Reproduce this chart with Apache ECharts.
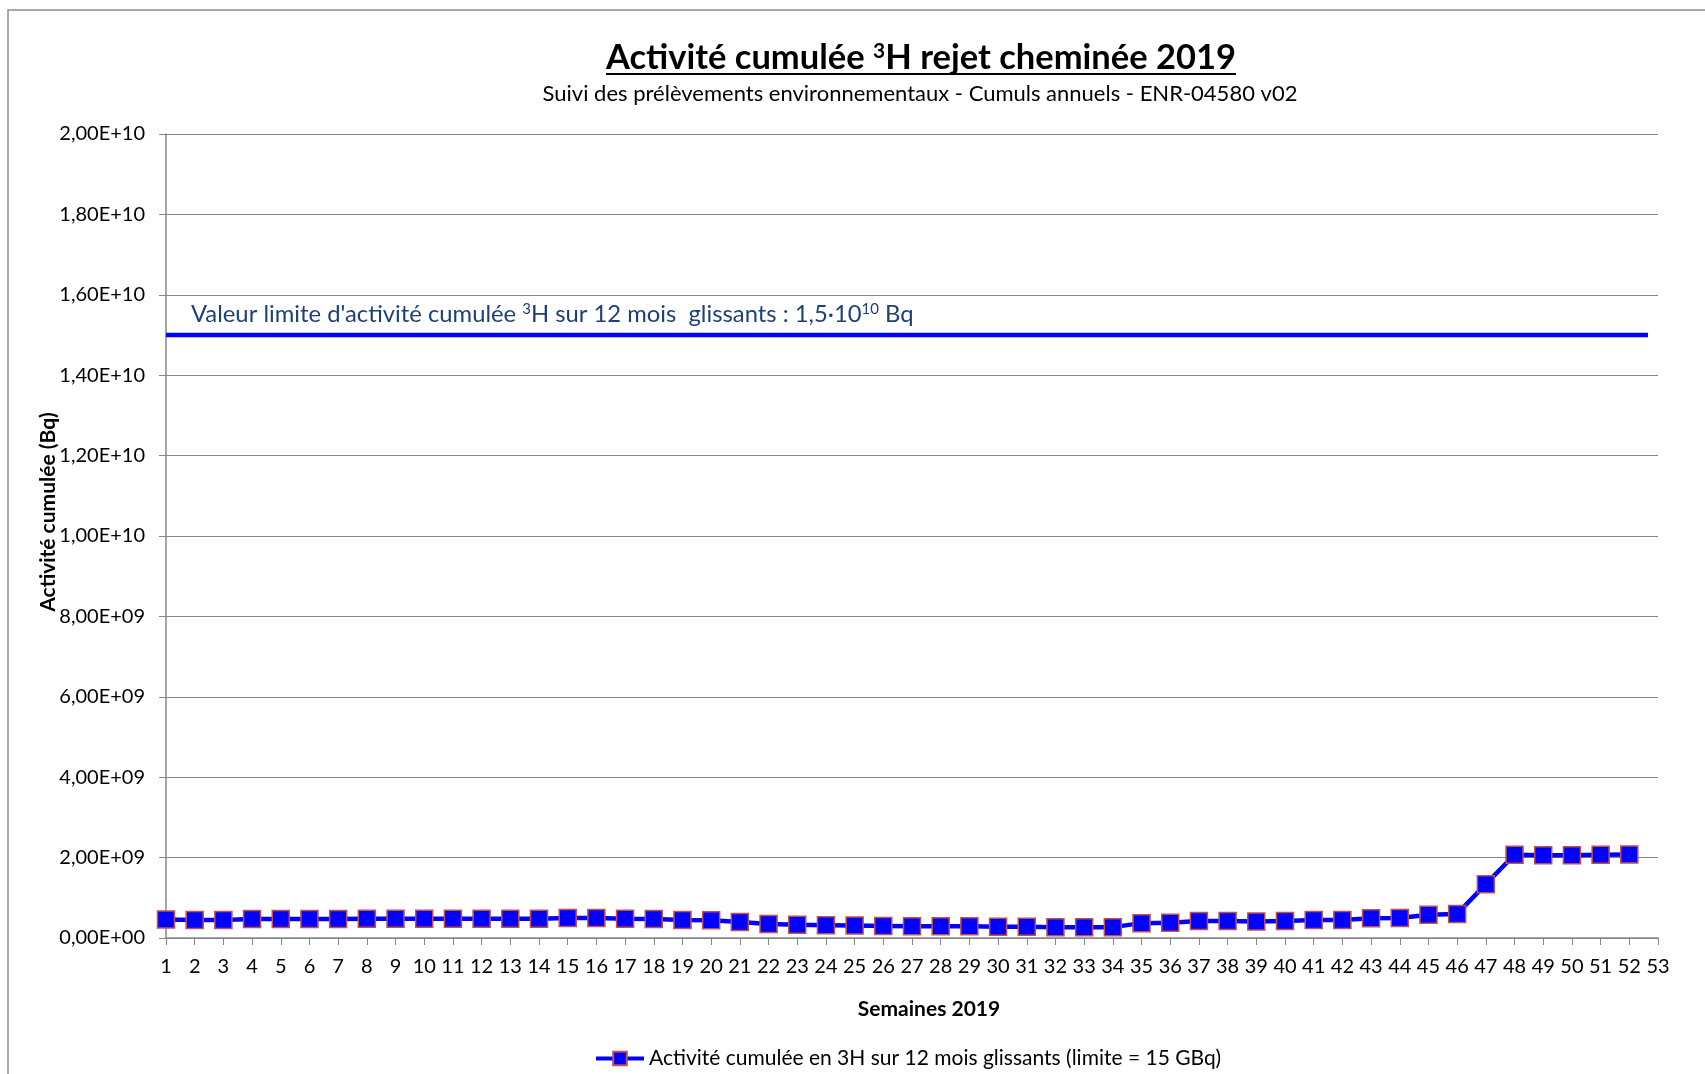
<!DOCTYPE html>
<html>
<head>
<meta charset="utf-8">
<script src="https://cdn.jsdelivr.net/npm/echarts@6/dist/echarts.min.js"></script>
<style>
  html, body { margin: 0; padding: 0; background: #fff; }
  #main { width: 1705px; height: 1074px; }
</style>
</head>
<body>
<div id="main"></div>
<script>
// semaines (tick labels of the x axis)
var weeks = [];
for (var w = 1; w <= 53; w++) weeks.push(String(w));

// activité cumulée 3H sur 12 mois glissants (Bq), semaines 1..52
var activity = [
  4.6e8, 4.5e8, 4.5e8, 4.7e8, 4.7e8, 4.7e8, 4.7e8, 4.8e8, 4.8e8, 4.8e8,
  4.8e8, 4.8e8, 4.8e8, 4.8e8, 5.0e8, 5.0e8, 4.8e8, 4.7e8, 4.5e8, 4.4e8,
  4.0e8, 3.5e8, 3.3e8, 3.2e8, 3.1e8, 3.0e8, 2.9e8, 2.9e8, 2.9e8, 2.8e8,
  2.8e8, 2.7e8, 2.7e8, 2.7e8, 3.7e8, 3.8e8, 4.2e8, 4.2e8, 4.1e8, 4.2e8,
  4.5e8, 4.5e8, 4.9e8, 5.0e8, 5.8e8, 6.0e8, 1.34e9, 2.07e9, 2.06e9, 2.06e9,
  2.07e9, 2.08e9
];

// valeur limite 1,5.10^10 Bq, drawn from the y axis to just before week 53
var limitValue = 1.5e10;
var limitX = [0, 51.65];

var yTickLabels = ['0,00E+00', '2,00E+09', '4,00E+09', '6,00E+09', '8,00E+09',
  '1,00E+10', '1,20E+10', '1,40E+10', '1,60E+10', '1,80E+10', '2,00E+10'];

var seriesName = 'Activité cumulée en 3H sur 12 mois glissants (limite = 15 GBq)';

var FONT = 'Lato';
var myChart = echarts.init(document.getElementById('main'));

var option = {
  animation: false,
  textStyle: { fontFamily: FONT },
  grid: { left: 166, right: 47, top: 134, bottom: 136 },
  legend: {
    data: [seriesName],
    left: 589,
    top: 1043,
    itemWidth: 48,
    itemHeight: 17,
    itemGap: 4,
    lineStyle: { color: '#0000ff', width: 4 },
    textStyle: { fontFamily: FONT, fontSize: 21, color: '#000' }
  },
  xAxis: [{
    type: 'category',
    data: weeks,
    boundaryGap: false,
    axisLine: { lineStyle: { color: '#868686', width: 1.5 } },
    axisTick: { length: 7, lineStyle: { color: '#868686' } },
    axisLabel: { color: '#000', fontSize: 20, margin: 19, interval: 0, fontFamily: FONT }
  }, {
    type: 'value',
    min: 0,
    max: 52,
    show: false
  }],
  yAxis: {
    type: 'value',
    min: 0,
    max: 2e10,
    interval: 2e9,
    axisLine: { show: true, lineStyle: { color: '#868686', width: 1.5 } },
    axisTick: { show: true, length: 7, lineStyle: { color: '#868686' } },
    axisLabel: {
      color: '#000', fontSize: 20, margin: 21, fontFamily: FONT,
      formatter: function (v) { return yTickLabels[Math.round(v / 2e9)]; }
    },
    splitLine: { lineStyle: { color: '#868686', width: 1 } }
  },
  graphic: [
    { type: 'rect', shape: { x: 8, y: 10, width: 1760, height: 1120 }, style: { fill: 'none', stroke: '#8c8c8c', lineWidth: 1.5 }, z: -1 },
    {
      type: 'text', x: 921, y: 58,
      style: {
        text: '{t|Activité cumulée }{s|3}{t|H rejet cheminée 2019}',
        textAlign: 'center', textVerticalAlign: 'middle',
        rich: {
          t: { fontFamily: FONT, fontSize: 34.5, fontWeight: 'bold', fill: '#000' },
          s: { fontFamily: FONT, fontSize: 21, fontWeight: 'bold', fill: '#000', verticalAlign: 'top', padding: [0, 0, 14, 0] }
        }
      }
    },
    { type: 'line', shape: { x1: 606, y1: 74, x2: 1236, y2: 74 }, style: { stroke: '#000', lineWidth: 2 } },
    {
      type: 'text', x: 920, y: 94,
      style: {
        text: 'Suivi des prélèvements environnementaux - Cumuls annuels - ENR-04580 v02',
        textAlign: 'center', textVerticalAlign: 'middle',
        font: '22px ' + FONT, fill: '#000'
      }
    },
    {
      type: 'text', x: 191, y: 314,
      style: {
        text: "{t|Valeur limite d'activité cumulée }{s|3}{t|H sur 12 mois  glissants : 1,5·10}{s|10}{t| Bq}",
        textVerticalAlign: 'middle',
        rich: {
          t: { fontFamily: FONT, fontSize: 23.8, fill: '#1f3f7a' },
          s: { fontFamily: FONT, fontSize: 15, fill: '#1f3f7a', verticalAlign: 'top', padding: [0, 0, 9, 0] }
        }
      }
    },
    {
      type: 'text', x: 929, y: 1009,
      style: { text: 'Semaines 2019', textAlign: 'center', textVerticalAlign: 'middle', font: 'bold 21px ' + FONT, fill: '#000' }
    },
    {
      type: 'text', x: 48, y: 512, rotation: Math.PI / 2,
      style: { text: 'Activité cumulée (Bq)', textAlign: 'center', textVerticalAlign: 'middle', font: 'bold 21px ' + FONT, fill: '#000' }
    }
  ],
  series: [{
    name: 'limite',
    type: 'line',
    xAxisIndex: 1,
    data: limitX.map(function (x) { return [x, limitValue]; }),
    symbol: 'none',
    lineStyle: { color: '#0000ff', width: 4.5 },
    silent: true
  }, {
    name: seriesName,
    type: 'line',
    data: activity,
    symbol: 'rect',
    symbolSize: 17,
    lineStyle: { color: '#0000ff', width: 4.5 },
    itemStyle: { color: '#0000ff', borderColor: '#c0504d', borderWidth: 1.5 },
    z: 3
  }]
};

myChart.setOption(option);
</script>
</body>
</html>
